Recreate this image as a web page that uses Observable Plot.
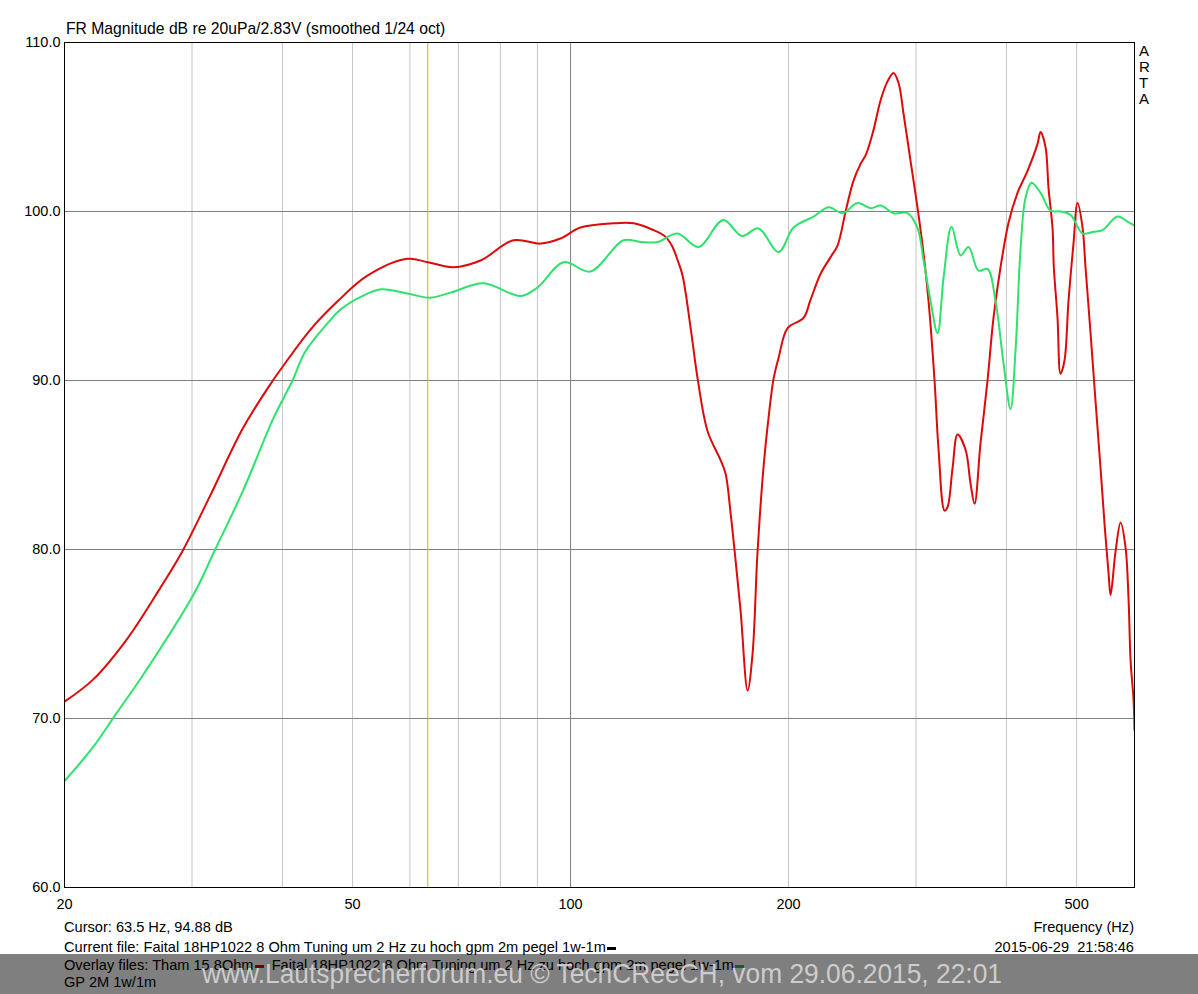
<!DOCTYPE html>
<html>
<head>
<meta charset="utf-8">
<script src="https://cdn.jsdelivr.net/npm/d3@7"></script>
<script src="https://cdn.jsdelivr.net/npm/@observablehq/plot@0.6"></script>
<style>
  html, body { margin: 0; padding: 0; background: #fff; }
  #wrap { position: relative; width: 1198px; height: 994px; overflow: hidden; background: #fff;
          font-family: "Liberation Sans", Arial, sans-serif; color: #000; }
  .t { position: absolute; white-space: pre; font-size: 14.6px; line-height: 16px; }
  .dash { display: inline-block; width: 9px; height: 3px; vertical-align: middle; margin-left: 1px; }
  #band { position: absolute; left: 0; top: 954px; width: 1198px; height: 40px; background: rgba(0,0,0,0.5); }
  #wm { position: absolute; left: 202px; top: 958px; font-size: 28px; line-height: 32px; color: rgba(215,215,215,0.9);
        white-space: pre; transform-origin: 0 0; }
</style>
</head>
<body>
<div id="wrap"></div>
<script>
// ---- data ----
const redFreq = [20, 21.9, 24.4, 27.1, 29.1, 31.8, 35.3, 38.8, 40, 43.7, 47.7, 52.4, 59.5, 63.5, 68.9, 75.1, 83.4, 90.9, 96.8, 103.2, 114.6, 122.2, 130.2, 133.1, 135.3, 138.3, 140.6, 142.8, 146.5, 149.8, 154.6, 161.1, 163.7, 166.4, 168.5, 171.7, 175.6, 178.4, 181.2, 184.7, 187.7, 190.7, 193.8, 199.4, 209.8, 214.4, 221.4, 228.6, 233.8, 239.8, 245.8, 251.4, 256, 262, 268.1, 274, 279.3, 283.8, 288.3, 294.8, 301.5, 307.3, 312.2, 318.2, 322.3, 328.5, 331.6, 337.0, 342.4, 351.2, 356.8, 361.4, 368.3, 376.6, 383.8, 392.5, 402.7, 414.3, 427.7, 441.5, 445.8, 452.9, 457.2, 463.1, 465, 470.5, 475, 481.1, 487.2, 495, 501.4, 509.5, 514.3, 522.6, 530.9, 539.4, 546.4, 553.4, 557, 565.9, 575, 584.2, 589.8, 593.6, 599.2, 601];
const redDb = [71.0, 72.3, 74.7, 77.7, 79.9, 83.2, 87.2, 90.0, 90.8, 93.0, 94.7, 96.2, 97.2, 97.0, 96.7, 97.1, 98.3, 98.1, 98.4, 99.05, 99.3, 99.3, 98.9, 98.7, 98.5, 97.9, 97.1, 96.2, 93.1, 90.1, 87.0, 85.3, 84.5, 82.1, 79.9, 76.4, 71.65, 73.85, 79.8, 84.85, 87.8, 90.1, 91.35, 93.1, 93.7, 94.75, 96.3, 97.3, 98.0, 100.0, 101.8, 102.8, 103.4, 104.8, 106.6, 107.7, 108.2, 107.6, 105.8, 103.0, 100.2, 97.5, 94.7, 90.0, 85.9, 82.3, 82.5, 84.85, 86.8, 85.9, 83.9, 82.7, 86.3, 90.0, 93.7, 96.7, 99.35, 101.1, 102.4, 104.0, 104.7, 103.8, 101.4, 99.0, 96.7, 93.7, 90.4, 91.2, 94.7, 98.1, 100.5, 99.05, 96.7, 92.8, 88.8, 84.85, 81.5, 78.6, 77.3, 79.9, 81.6, 80.1, 77.0, 73.4, 71.1, 69.3];

const greenFreq = [20, 21.9, 23.5, 25.7, 30.2, 32.3, 35.3, 38.9, 41.3, 43.0, 46.2, 48.1, 51.3, 54.7, 59.5, 64, 68.3, 75.8, 85.3, 90, 97.8, 106.5, 118.3, 124.9, 131.9, 140.5, 150.2, 162.5, 172.5, 181.8, 193.8, 203.2, 216.6, 227.2, 237.6, 249, 259.7, 268.1, 279.3, 292.0, 301.5, 307.3, 314.2, 321.3, 327.5, 335.9, 345.7, 354.5, 366.0, 376.6, 386.3, 396.3, 405.2, 411.7, 418.2, 424.9, 433.1, 445.8, 460.2, 475.0, 490.4, 509.5, 527.6, 542.9, 569.5, 587.9, 599.2];
const greenDb = [66.3, 68.3, 70.2, 72.6, 77.4, 80.0, 83.5, 87.8, 90.0, 91.7, 93.4, 94.2, 94.95, 95.4, 95.15, 94.9, 95.2, 95.75, 95.0, 95.5, 97.0, 96.45, 98.3, 98.2, 98.2, 98.7, 97.9, 99.5, 98.55, 99.0, 97.6, 99.05, 99.7, 100.25, 99.9, 100.5, 100.2, 100.35, 99.9, 99.9, 99.0, 97.1, 94.7, 92.8, 96.1, 99.1, 97.4, 97.9, 96.5, 96.6, 94.7, 91.0, 88.3, 91.8, 97.7, 100.8, 101.7, 101.1, 100.05, 100.0, 99.8, 98.7, 98.8, 98.9, 99.7, 99.4, 99.2];

const xTickLabels = [20, 50, 100, 200, 500];
const xGridMinor = [30, 40, 50, 60, 70, 80, 90, 200, 300, 400, 500];
const xGridMajor = [100];
const yTickLabels = [60, 70, 80, 90, 100, 110];
const yGrid = [70, 80, 90, 100];
const cursorFreq = [63.5];

const redData = redFreq.map((f, i) => ({f, db: redDb[i]}));
const greenData = greenFreq.map((f, i) => ({f, db: greenDb[i]}));

const chart = Plot.plot({
  width: 1198, height: 994,
  marginTop: 42, marginRight: 64, marginBottom: 107, marginLeft: 64,
  x: {type: "log", domain: [20, 601]},
  y: {domain: [60, 110]},
  style: {fontFamily: "'Liberation Sans', Arial, sans-serif", fontSize: "14.5px", color: "#000", background: "transparent"},
  marks: [
    Plot.ruleX(xGridMinor, {stroke: "#c4c4c4", strokeWidth: 1}),
    Plot.ruleX(xGridMajor, {stroke: "#808080", strokeWidth: 1}),
    Plot.ruleY(yGrid, {stroke: "#808080", strokeWidth: 1}),
    Plot.ruleX(cursorFreq, {stroke: "#c8b800", strokeWidth: 1}),
    Plot.line(redData, {x: "f", y: "db", stroke: "#dd0a0a", strokeWidth: 2, curve: "catmull-rom", clip: true}),
    Plot.line(greenData, {x: "f", y: "db", stroke: "#2ee36c", strokeWidth: 2, curve: "catmull-rom", clip: true}),
    Plot.frame({stroke: "#000", strokeWidth: 1}),
    Plot.axisX(xTickLabels, {tickSize: 0, tickPadding: 11, tickFormat: d => String(d), label: null}),
    Plot.axisY(yTickLabels, {tickSize: 0, tickPadding: 4, tickFormat: d => d.toFixed(1), label: null})
  ]
});
chart.style.position = "absolute";
chart.style.left = "0px";
chart.style.top = "0px";

const wrap = document.getElementById("wrap");
wrap.appendChild(chart);

function addText(txt, left, top, opts = {}) {
  const d = document.createElement("div");
  d.className = "t";
  d.style.left = left + "px";
  d.style.top = top + "px";
  if (opts.size) d.style.fontSize = opts.size + "px";
  if (opts.right) { d.style.left = "auto"; d.style.right = opts.right + "px"; }
  if (opts.html) d.innerHTML = txt; else d.textContent = txt;
  wrap.appendChild(d);
  return d;
}

addText("FR Magnitude dB re 20uPa/2.83V (smoothed 1/24 oct)", 66, 21, {size: 15.7});
["A", "R", "T", "A"].forEach((c, i) => addText(c, 1139, 43 + i * 16, {size: 15}));
addText("Cursor: 63.5 Hz, 94.88 dB", 64, 919);
addText("Frequency (Hz)", 0, 919, {right: 64});
addText('Current file: Faital 18HP1022 8 Ohm Tuning um 2 Hz zu hoch gpm 2m pegel 1w-1m<span class="dash" style="background:#000"></span>', 64, 939, {html: true});
addText("2015-06-29  21:58:46", 0, 939, {right: 64});
addText('Overlay files: Tham 15 8Ohm<span class="dash" style="background:#e00000"></span>  Faital 18HP1022 8 Ohm Tuning um 2 Hz zu hoch gpm 2m pegel 1w-1m<span class="dash" style="background:#22c050"></span>', 64, 957, {html: true});
addText("GP 2M 1w/1m", 64, 974);

const band = document.createElement("div");
band.id = "band";
wrap.appendChild(band);
const wm = document.createElement("div");
wm.id = "wm";
wm.textContent = "www.Lautsprecherforum.eu \u00a9 TechCReeCH, vom 29.06.2015, 22:01";
wrap.appendChild(wm);
const w = wm.getBoundingClientRect().width;
wm.style.transform = `scaleX(${800 / w})`;
</script>
</body>
</html>
